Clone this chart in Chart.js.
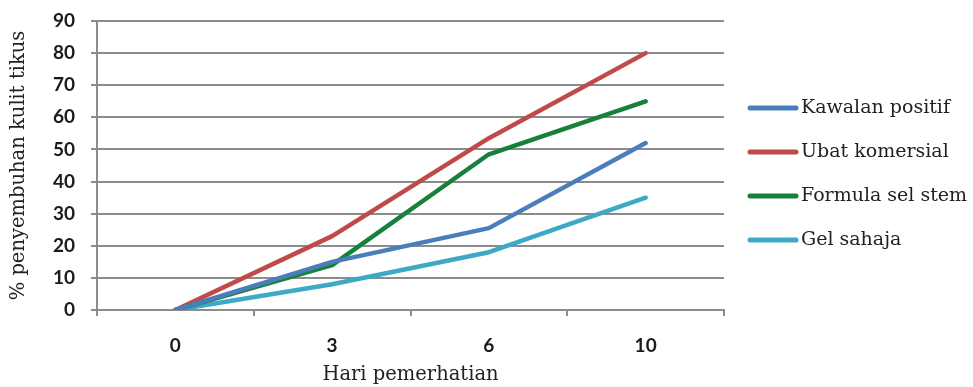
<!DOCTYPE html>
<html>
<head>
<meta charset="utf-8">
<script src="https://cdn.jsdelivr.net/npm/chart.js@4/dist/chart.umd.min.js"></script>
<style>
  html, body { margin: 0; padding: 0; background: #fff; }
  #wrap { width: 973px; height: 387px; position: relative; }
</style>
</head>
<body>
<div id="wrap"><canvas id="c" width="973" height="387"></canvas></div>
<script>
// Data
const categories = ['0', '3', '6', '10'];
const seriesNames = ['Kawalan positif', 'Ubat komersial', 'Formula sel stem', 'Gel sahaja'];
const kawalanPositif = [0, 15, 25.5, 52];
const ubatKomersial = [0, 23, 53.5, 80];
const formulaSelStem = [0, 14, 48.5, 65];
const gelSahaja = [0, 8, 18, 35];
const yTicks = [0, 10, 20, 30, 40, 50, 60, 70, 80, 90];
const xTitle = 'Hari pemerhatian';
const yTitle = '% penyembuhan kulit tikus';

const colors = ['#4a7ebb', '#be4b48', '#16813a', '#3caac6'];
const seriesValues = [kawalanPositif, ubatKomersial, formulaSelStem, gelSahaja];

const GRID = '#8c8c8c';
const TICK_FONT = { family: 'Lato, "Open Sans", sans-serif', size: 19, weight: 'bold' };
const SERIF = '"DejaVu Serif", "Liberation Serif", serif';

const legendPlugin = {
  id: 'sideLegend',
  afterDraw(chart) {
    const ctx = chart.ctx;
    const rows = [108, 152, 196, 240];
    ctx.save();
    chart.data.datasets.forEach((ds, i) => {
      const y = rows[i];
      ctx.strokeStyle = ds.borderColor;
      ctx.lineWidth = 5;
      ctx.lineCap = 'round';
      ctx.beginPath();
      ctx.moveTo(750, y);
      ctx.lineTo(796, y);
      ctx.stroke();
      ctx.fillStyle = '#222';
      ctx.font = '19px ' + SERIF;
      ctx.textBaseline = 'middle';
      ctx.textAlign = 'left';
      ctx.fillText(ds.label, 801, y);
    });
    ctx.restore();
  }
};

new Chart(document.getElementById('c'), {
  type: 'line',
  data: {
    labels: categories,
    datasets: seriesNames.map((name, i) => ({
      label: name,
      data: seriesValues[i],
      borderColor: colors[i],
      backgroundColor: colors[i],
      borderWidth: 4.5,
      pointRadius: 0,
      tension: 0,
      borderCapStyle: 'round',
      borderJoinStyle: 'round',
      fill: false
    }))
  },
  options: {
    responsive: false,
    animation: false,
    devicePixelRatio: 1,
    layout: { padding: { top: 21, right: 249, bottom: 0, left: 0 } },
    plugins: {
      legend: { display: false },
      tooltip: { enabled: false }
    },
    scales: {
      x: {
        type: 'category',
        offset: true,
        afterFit(scale) { scale.height = 77; scale.paddingLeft = 0; scale.paddingRight = 0; },
        grid: {
          offset: true,
          drawOnChartArea: false,
          drawTicks: true,
          tickLength: 6,
          color: GRID,
          lineWidth: 2
        },
        border: { display: true, color: GRID, width: 2 },
        ticks: { color: '#1a1a1a', font: TICK_FONT, padding: 18, maxRotation: 0 },
        title: {
          display: true,
          text: xTitle,
          color: '#222',
          font: { family: SERIF, size: 19.5 },
          padding: { top: 0, bottom: 0 }
        }
      },
      y: {
        min: 0,
        max: 90,
        afterFit(scale) { scale.width = 97; scale.paddingTop = 0; scale.paddingBottom = 0; },
        afterBuildTicks(scale) { scale.ticks = yTicks.map(v => ({ value: v })); },
        grid: {
          color: GRID,
          lineWidth: 2,
          drawTicks: true,
          tickLength: 6
        },
        border: { display: true, color: GRID, width: 2 },
        ticks: { color: '#1a1a1a', font: TICK_FONT, padding: 16 },
        title: {
          display: true,
          text: yTitle,
          color: '#222',
          font: { family: SERIF, size: 19.5 },
          padding: { top: 7, bottom: 0 }
        }
      }
    }
  },
  plugins: [legendPlugin]
});
</script>
</body>
</html>
